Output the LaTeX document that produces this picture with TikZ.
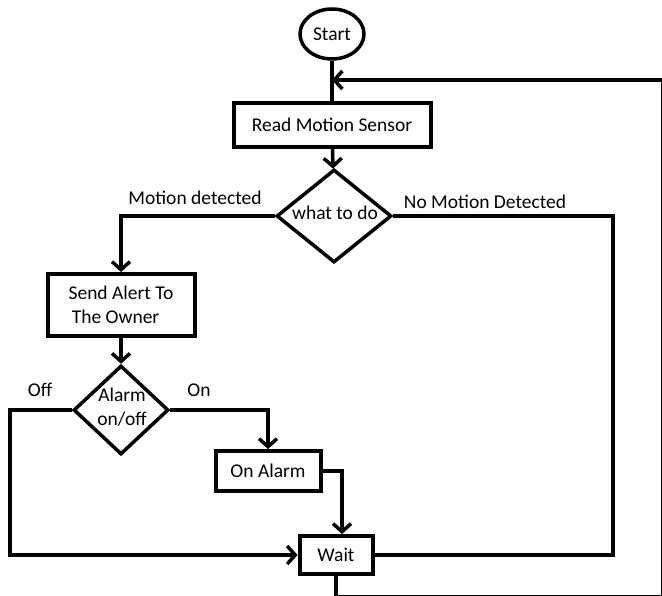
\documentclass[tikz,border=0pt]{standalone}
\usepackage{fontspec}
\setmainfont{Carlito}
\usetikzlibrary{arrows.meta,shapes.geometric}
\begin{document}
\begin{tikzpicture}[x=1pt,y=-1pt,
  line width=3.5pt,
  txt/.style={font=\fontsize{19.5}{24}\selectfont},
  box/.style={draw,rectangle,line width=4pt,inner sep=0pt,txt},
  dia/.style={draw,diamond,line width=3.5pt,inner sep=0pt,txt,align=center},
  flow/.style={-{Straight Barb[length=8pt,width=18pt,line width=3.5pt]}},
  lbl/.style={txt,inner sep=0pt}]
\useasboundingbox (0,0) rectangle (662,596);
\node[draw,ellipse,line width=3.5pt,minimum width=64pt,minimum height=50pt,inner sep=0pt,txt] (start) at (332,34) {Start};
\node[box,minimum width=197pt,minimum height=44pt] (read) at (332,125) {Read Motion Sensor};
\node[dia,minimum width=115pt,minimum height=93pt] (what) at (334,216) {};
\node[lbl] at (335,213) {what to do};
\node[box,minimum width=147pt,minimum height=62pt,align=left] (send) at (121,305) {Send Alert To\\\,The Owner};
\node[dia,minimum width=95pt,minimum height=89pt] (alarm) at (121,410) {};
\node[lbl,align=center] at (122,407) {Alarm\\on/off};
\node[box,minimum width=105pt,minimum height=40pt] (onal) at (268,471) {On Alarm};
\node[box,minimum width=73pt,minimum height=38pt] (wait) at (336,555) {Wait};
\node[lbl] (lmd) at (195,198) {Motion detected};
\node[lbl] (lnmd) at (485,202) {No Motion Detected};
\node[lbl] (loff) at (40,390) {Off};
\node[lbl] (lon) at (199,390) {On};
\coordinate (j) at (332,80);
\coordinate (br) at (662.5,596.5);
\coordinate (nr) at (613,555);
\coordinate (offc) at (10,555);
\draw (start) -- (read);
\draw[flow] (read) -- (what);
\draw[flow] (what.west) -| (send.north);
\draw[flow] (send) -- (alarm);
\draw[flow] (alarm.west) -| (offc) -- (wait.west);
\draw[flow] (alarm.east) -| (onal.north);
\draw[flow] (onal.east) -| ([xshift=6pt]wait.north);
\draw (what.east) -| (nr) -- (wait.east);
\draw[flow] (wait.south) |- (br) |- (j);
\end{tikzpicture}
\end{document}
